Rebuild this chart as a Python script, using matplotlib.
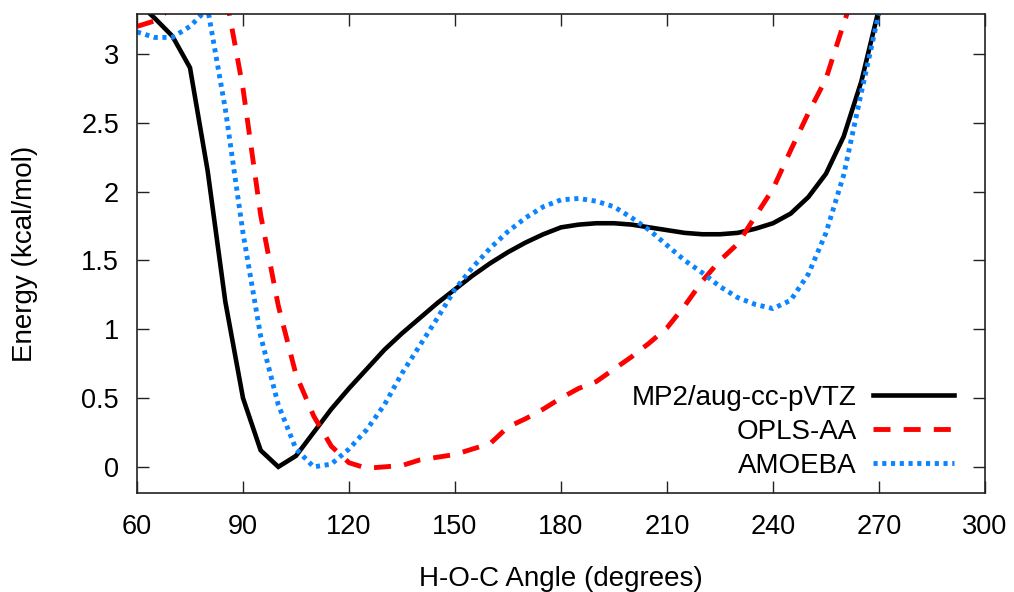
import matplotlib
matplotlib.use("Agg")
import matplotlib.pyplot as plt
from matplotlib.ticker import FuncFormatter

plt.rcParams['font.family'] = ['Liberation Sans', 'DejaVu Sans']

# Angles (degrees)
angles = [60, 65, 70, 75, 80, 85, 90, 95, 100, 105, 110, 115, 120, 125, 130,
          135, 140, 145, 150, 155, 160, 165, 170, 175, 180, 185, 190, 195,
          200, 205, 210, 215, 220, 225, 230, 235, 240, 245, 250, 255, 260,
          265, 270, 275]

mp2 = [3.38, 3.26, 3.13, 2.90, 2.15, 1.20, 0.50, 0.12, 0.00, 0.08, 0.25, 0.42,
       0.57, 0.71, 0.85, 0.97, 1.08, 1.19, 1.29, 1.39, 1.48, 1.56, 1.63, 1.69,
       1.74, 1.76, 1.77, 1.77, 1.76, 1.74, 1.72, 1.70, 1.69, 1.69, 1.70, 1.73,
       1.77, 1.84, 1.96, 2.13, 2.40, 2.80, 3.33, 4.00]

opls = [3.20, 3.24, 3.34, 3.60, 3.70, 3.45, 2.75, 1.83, 1.17, 0.67, 0.37, 0.15,
        0.03, -0.01, 0.00, 0.01, 0.05, 0.07, 0.09, 0.13, 0.17, 0.29, 0.35, 0.42,
        0.50, 0.57, 0.62, 0.71, 0.80, 0.90, 1.01, 1.17, 1.35, 1.50, 1.62, 1.82,
        2.02, 2.30, 2.57, 2.82, 3.22, 3.60, 4.00, 4.40]

amoeba = [3.16, 3.12, 3.12, 3.20, 3.33, 2.60, 1.70, 0.95, 0.45, 0.13, 0.00, 0.02,
          0.13, 0.27, 0.45, 0.68, 0.88, 1.08, 1.29, 1.45, 1.59, 1.71, 1.81, 1.89,
          1.94, 1.95, 1.93, 1.89, 1.81, 1.72, 1.61, 1.50, 1.41, 1.31, 1.23, 1.18,
          1.15, 1.21, 1.40, 1.70, 2.12, 2.72, 3.30, 4.00]

series_labels = ["MP2/aug-cc-pVTZ", "OPLS-AA", "AMOEBA"]
xticks = [60, 90, 120, 150, 180, 210, 240, 270, 300]
yticks = [0, 0.5, 1, 1.5, 2, 2.5, 3]

fig = plt.figure(figsize=(10.14, 5.92), dpi=100)
ax = fig.add_axes([0.1351, 0.1672, 0.8363, 0.8091])

ax.plot(angles, mp2, color='black', lw=3.3, solid_joinstyle='miter',
        label=series_labels[0])
ax.plot(angles, opls, color='#ff0000', lw=3.5, dashes=(3.5, 2.7),
        dash_capstyle='butt', label=series_labels[1])
ax.plot(angles, amoeba, color='#0a84ff', lw=3.5, dashes=(0.85, 0.95),
        dash_capstyle='butt', label=series_labels[2])

ax.set_xlim(60, 300)
ax.set_ylim(-0.19, 3.29)
ax.set_xticks(xticks)
ax.set_yticks(yticks)
ax.yaxis.set_major_formatter(FuncFormatter(lambda v, p: '%g' % v))

ax.tick_params(direction='in', length=8.5, width=1.0, top=True, right=True,
               labelsize=19.5, pad=13, color='#222222')
ax.tick_params(axis='x', pad=15)
for s in ax.spines.values():
    s.set_linewidth(1.2)
    s.set_color('#222222')

ax.set_xlabel("H-O-C Angle (degrees)", fontsize=20, labelpad=19)
ax.set_ylabel("Energy (kcal/mol)", fontsize=20, labelpad=31)

leg = ax.legend(loc='lower right', bbox_to_anchor=(0.9634, 0.03),
                frameon=False, markerfirst=False, fontsize=20,
                handlelength=2.9, handletextpad=0.6, labelspacing=0.28,
                borderpad=0, borderaxespad=0)

fig.savefig("out.png", dpi=100)
